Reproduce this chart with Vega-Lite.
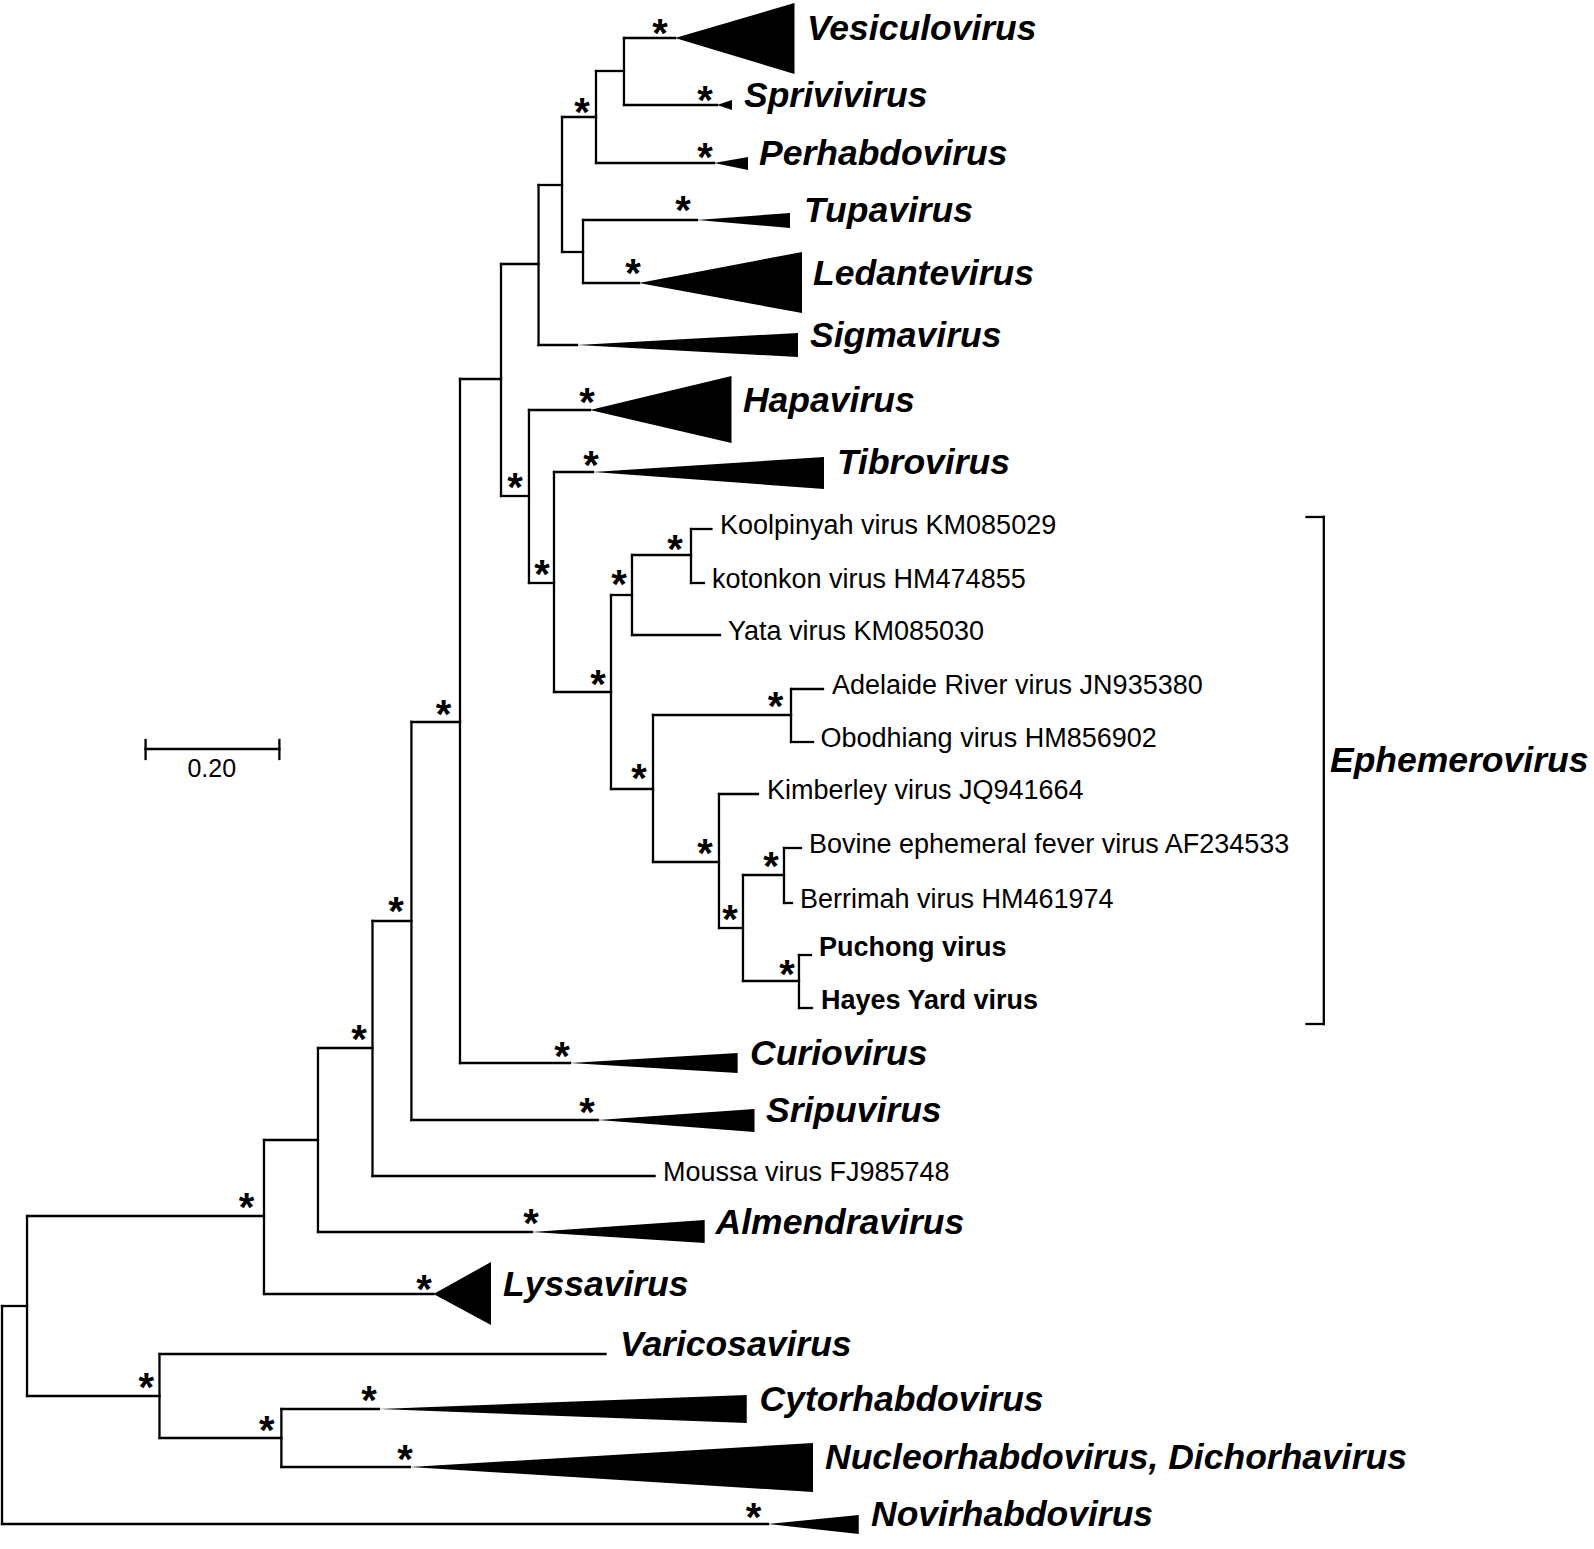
{
  "$schema": "https://vega.github.io/schema/vega-lite/v6.json",
  "width": 1594,
  "height": 1549,
  "padding": 0,
  "autosize": "none",
  "background": "white",
  "config": {"view": {"stroke": null}},
  "datasets": {
    "branches": [
      {"x":0,"x2":0.0374,"y":1306,"y2":1306},
      {"x":0,"x2":1.1450,"y":1524,"y2":1524},
      {"x":0,"x2":0,"y":1306,"y2":1524},
      {"x":0.0374,"x2":0.0374,"y":1216,"y2":1396},
      {"x":0.0374,"x2":0.3916,"y":1216,"y2":1216},
      {"x":0.0374,"x2":0.2354,"y":1396,"y2":1396},
      {"x":0.2354,"x2":0.2354,"y":1354,"y2":1438},
      {"x":0.2354,"x2":0.9021,"y":1354,"y2":1354},
      {"x":0.2354,"x2":0.4176,"y":1438,"y2":1438},
      {"x":0.4176,"x2":0.4176,"y":1409,"y2":1467},
      {"x":0.4176,"x2":0.5635,"y":1409,"y2":1409},
      {"x":0.4176,"x2":0.6096,"y":1467,"y2":1467},
      {"x":0.3916,"x2":0.3916,"y":1140,"y2":1294},
      {"x":0.3916,"x2":0.6450,"y":1294,"y2":1294},
      {"x":0.3916,"x2":0.4723,"y":1140,"y2":1140},
      {"x":0.4723,"x2":0.4723,"y":1048,"y2":1232},
      {"x":0.4723,"x2":0.7922,"y":1232,"y2":1232},
      {"x":0.4723,"x2":0.5538,"y":1048,"y2":1048},
      {"x":0.5538,"x2":0.5538,"y":921,"y2":1176},
      {"x":0.5538,"x2":0.9755,"y":1176,"y2":1176},
      {"x":0.5538,"x2":0.6120,"y":921,"y2":921},
      {"x":0.6120,"x2":0.6120,"y":722,"y2":1120},
      {"x":0.6120,"x2":0.8909,"y":1120,"y2":1120},
      {"x":0.6120,"x2":0.6846,"y":722,"y2":722},
      {"x":0.6846,"x2":0.6846,"y":379,"y2":1063},
      {"x":0.6846,"x2":0.8490,"y":1063,"y2":1063},
      {"x":0.6846,"x2":0.7459,"y":379,"y2":379},
      {"x":0.7459,"x2":0.7459,"y":264,"y2":496},
      {"x":0.7459,"x2":0.8020,"y":264,"y2":264},
      {"x":0.7459,"x2":0.7877,"y":496,"y2":496},
      {"x":0.7877,"x2":0.7877,"y":410,"y2":583},
      {"x":0.7877,"x2":0.8789,"y":410,"y2":410},
      {"x":0.7877,"x2":0.8251,"y":583,"y2":583},
      {"x":0.8251,"x2":0.8251,"y":472,"y2":692},
      {"x":0.8251,"x2":0.8834,"y":472,"y2":472},
      {"x":0.8251,"x2":0.9103,"y":692,"y2":692},
      {"x":0.9103,"x2":0.9103,"y":595,"y2":789},
      {"x":0.9103,"x2":0.9417,"y":595,"y2":595},
      {"x":0.9417,"x2":0.9417,"y":555,"y2":635},
      {"x":0.9417,"x2":1.0299,"y":555,"y2":555},
      {"x":1.0299,"x2":1.0299,"y":529,"y2":583},
      {"x":1.0299,"x2":1.0605,"y":529,"y2":529},
      {"x":1.0299,"x2":1.0493,"y":583,"y2":583},
      {"x":0.9417,"x2":1.0732,"y":635,"y2":635},
      {"x":0.9103,"x2":0.9731,"y":789,"y2":789},
      {"x":0.9731,"x2":0.9731,"y":715,"y2":862},
      {"x":0.9731,"x2":1.1794,"y":715,"y2":715},
      {"x":1.1794,"x2":1.1794,"y":689,"y2":742},
      {"x":1.1794,"x2":1.2272,"y":689,"y2":689},
      {"x":1.1794,"x2":1.2123,"y":742,"y2":742},
      {"x":0.9731,"x2":1.0717,"y":862,"y2":862},
      {"x":1.0717,"x2":1.0717,"y":794,"y2":928},
      {"x":1.0717,"x2":1.1300,"y":794,"y2":794},
      {"x":1.0717,"x2":1.1076,"y":928,"y2":928},
      {"x":1.1076,"x2":1.1076,"y":875,"y2":981},
      {"x":1.1076,"x2":1.1689,"y":875,"y2":875},
      {"x":1.1689,"x2":1.1689,"y":848,"y2":903},
      {"x":1.1689,"x2":1.1943,"y":848,"y2":848},
      {"x":1.1689,"x2":1.1809,"y":903,"y2":903},
      {"x":1.1076,"x2":1.1913,"y":981,"y2":981},
      {"x":1.1913,"x2":1.1913,"y":955,"y2":1008},
      {"x":1.1913,"x2":1.2093,"y":955,"y2":955},
      {"x":1.1913,"x2":1.2108,"y":1008,"y2":1008},
      {"x":0.8020,"x2":0.8020,"y":185,"y2":345},
      {"x":0.8020,"x2":0.8371,"y":185,"y2":185},
      {"x":0.8020,"x2":0.8595,"y":345,"y2":345},
      {"x":0.8371,"x2":0.8371,"y":117,"y2":252},
      {"x":0.8371,"x2":0.8879,"y":117,"y2":117},
      {"x":0.8371,"x2":0.8685,"y":252,"y2":252},
      {"x":0.8685,"x2":0.8685,"y":220,"y2":283},
      {"x":0.8685,"x2":1.0389,"y":220,"y2":220},
      {"x":0.8685,"x2":0.9522,"y":283,"y2":283},
      {"x":0.8879,"x2":0.8879,"y":71,"y2":163},
      {"x":0.8879,"x2":0.9297,"y":71,"y2":71},
      {"x":0.8879,"x2":1.0643,"y":163,"y2":163},
      {"x":0.9297,"x2":0.9297,"y":38,"y2":105},
      {"x":0.9297,"x2":1.0060,"y":38,"y2":38},
      {"x":0.9297,"x2":1.0688,"y":105,"y2":105}
    ],
    "guides": [
      {"x":0.2146,"x2":0.4146,"y":749,"y2":749},
      {"x":0.2146,"x2":0.2146,"y":740,"y2":759},
      {"x":0.4146,"x2":0.4146,"y":740,"y2":759},
      {"x":1.9758,"x2":1.9758,"y":517,"y2":1024},
      {"x":1.9499,"x2":1.9758,"y":517,"y2":517},
      {"x":1.9499,"x2":1.9758,"y":1024,"y2":1024}
    ],
    "clades": [
      {"clade":"Vesiculovirus","x":1.0060,"y":38,"y2":38},
      {"clade":"Vesiculovirus","x":1.1846,"y":3,"y2":74},
      {"clade":"Sprivivirus","x":1.0688,"y":105,"y2":105},
      {"clade":"Sprivivirus","x":1.0912,"y":100,"y2":110},
      {"clade":"Perhabdovirus","x":1.0643,"y":163,"y2":163},
      {"clade":"Perhabdovirus","x":1.1151,"y":157,"y2":170},
      {"clade":"Tupavirus","x":1.0389,"y":220,"y2":220},
      {"clade":"Tupavirus","x":1.1779,"y":213,"y2":228},
      {"clade":"Ledantevirus","x":0.9522,"y":283,"y2":283},
      {"clade":"Ledantevirus","x":1.1958,"y":252,"y2":313},
      {"clade":"Sigmavirus","x":0.8595,"y":345,"y2":345},
      {"clade":"Sigmavirus","x":1.1898,"y":333,"y2":357},
      {"clade":"Hapavirus","x":0.8789,"y":410,"y2":410},
      {"clade":"Hapavirus","x":1.0904,"y":376,"y2":443},
      {"clade":"Tibrovirus","x":0.8834,"y":472,"y2":472},
      {"clade":"Tibrovirus","x":1.2287,"y":457,"y2":489},
      {"clade":"Curiovirus","x":0.8490,"y":1063,"y2":1063},
      {"clade":"Curiovirus","x":1.0996,"y":1053,"y2":1073},
      {"clade":"Sripuvirus","x":0.8909,"y":1120,"y2":1120},
      {"clade":"Sripuvirus","x":1.1248,"y":1109,"y2":1132},
      {"clade":"Almendravirus","x":0.7922,"y":1232,"y2":1232},
      {"clade":"Almendravirus","x":1.0504,"y":1220,"y2":1243},
      {"clade":"Lyssavirus","x":0.6450,"y":1294,"y2":1294},
      {"clade":"Lyssavirus","x":0.7309,"y":1262,"y2":1325},
      {"clade":"Cytorhabdovirus","x":0.5635,"y":1409,"y2":1409},
      {"clade":"Cytorhabdovirus","x":1.1132,"y":1395,"y2":1423},
      {"clade":"Nucleorhabdovirus","x":0.6096,"y":1467,"y2":1467},
      {"clade":"Nucleorhabdovirus","x":1.2123,"y":1443,"y2":1492},
      {"clade":"Novirhabdovirus","x":1.1450,"y":1524,"y2":1524},
      {"clade":"Novirhabdovirus","x":1.2807,"y":1515,"y2":1534}
    ],
    "labels": [
      {"label":"Vesiculovirus","kind":"genus","x":1.2033,"y":38},
      {"label":"Sprivivirus","kind":"genus","x":1.1091,"y":105},
      {"label":"Perhabdovirus","kind":"genus","x":1.1315,"y":163},
      {"label":"Tupavirus","kind":"genus","x":1.1988,"y":220},
      {"label":"Ledantevirus","kind":"genus","x":1.2123,"y":283},
      {"label":"Sigmavirus","kind":"genus","x":1.2078,"y":345},
      {"label":"Hapavirus","kind":"genus","x":1.1076,"y":410},
      {"label":"Tibrovirus","kind":"genus","x":1.2481,"y":472},
      {"label":"Curiovirus","kind":"genus","x":1.1181,"y":1063},
      {"label":"Sripuvirus","kind":"genus","x":1.1420,"y":1120},
      {"label":"Almendravirus","kind":"genus","x":1.0667,"y":1232},
      {"label":"Lyssavirus","kind":"genus","x":0.7489,"y":1294},
      {"label":"Varicosavirus","kind":"genus","x":0.9238,"y":1354},
      {"label":"Cytorhabdovirus","kind":"genus","x":1.1324,"y":1409},
      {"label":"Nucleorhabdovirus, Dichorhavirus","kind":"genus","x":1.2302,"y":1467},
      {"label":"Novirhabdovirus","kind":"genus","x":1.2990,"y":1524},
      {"label":"Ephemerovirus","kind":"genus","x":1.9850,"y":770},
      {"label":"Koolpinyah virus KM085029","kind":"strain","x":1.0732,"y":529},
      {"label":"kotonkon virus HM474855","kind":"strain","x":1.0613,"y":583},
      {"label":"Yata virus KM085030","kind":"strain","x":1.0852,"y":635},
      {"label":"Adelaide River virus JN935380","kind":"strain","x":1.2407,"y":689},
      {"label":"Obodhiang virus HM856902","kind":"strain","x":1.2235,"y":742},
      {"label":"Kimberley virus JQ941664","kind":"strain","x":1.1435,"y":794},
      {"label":"Bovine ephemeral fever virus AF234533","kind":"strain","x":1.2063,"y":848},
      {"label":"Berrimah virus HM461974","kind":"strain","x":1.1928,"y":903},
      {"label":"Moussa virus FJ985748","kind":"strain","x":0.9880,"y":1176},
      {"label":"Puchong virus","kind":"new","x":1.2212,"y":955},
      {"label":"Hayes Yard virus","kind":"new","x":1.2242,"y":1008},
      {"label":"0.20","kind":"scale","x":0.3135,"y":767.5}
    ],
    "support": [
      {"x":0.9836,"y":28},{"x":1.0508,"y":95},{"x":0.8670,"y":107},{"x":1.0508,"y":152},
      {"x":1.0179,"y":205},{"x":0.9432,"y":268},{"x":0.8744,"y":397},{"x":0.8804,"y":460},
      {"x":0.7668,"y":482},{"x":0.8072,"y":569},{"x":0.8909,"y":679},{"x":0.9223,"y":579},
      {"x":1.0060,"y":544},{"x":0.9522,"y":773},{"x":1.1562,"y":701},{"x":1.0508,"y":848},
      {"x":1.0882,"y":914},{"x":1.1495,"y":861},{"x":1.1734,"y":969},{"x":0.6601,"y":709},
      {"x":0.5889,"y":906},{"x":0.5336,"y":1034},{"x":0.8371,"y":1051},{"x":0.8744,"y":1107},
      {"x":0.7907,"y":1218},{"x":0.3655,"y":1202},{"x":0.6308,"y":1284},{"x":0.2157,"y":1382},
      {"x":0.3958,"y":1425},{"x":0.5486,"y":1395},{"x":0.6024,"y":1454},{"x":1.1233,"y":1512}
    ]
  },
  "encoding": {
    "x": {"field": "x", "type": "quantitative", "scale": {"domain": [-0.003, 2.3797], "nice": false, "zero": false}, "axis": null},
    "y": {"field": "y", "type": "quantitative", "scale": {"domain": [0, 1549], "reverse": true, "nice": false, "zero": false}, "axis": null}
  },
  "layer": [
    {
      "data": {"name": "clades"},
      "mark": {"type": "area", "orient": "vertical", "color": "black", "opacity": 1, "interpolate": "linear"},
      "encoding": {"y2": {"field": "y2"}, "detail": {"field": "clade", "type": "nominal"}}
    },
    {
      "data": {"name": "branches"},
      "mark": {"type": "rule", "color": "black", "strokeWidth": 2.3, "strokeCap": "square"},
      "encoding": {"x2": {"field": "x2"}, "y2": {"field": "y2"}}
    },
    {
      "data": {"name": "guides"},
      "mark": {"type": "rule", "color": "black", "strokeWidth": 2.3, "strokeCap": "square"},
      "encoding": {"x2": {"field": "x2"}, "y2": {"field": "y2"}}
    },
    {
      "data": {"name": "labels"},
      "transform": [{"filter": "datum.kind === 'genus'"}],
      "mark": {"type": "text", "align": "left", "baseline": "middle", "font": "Liberation Sans", "fontSize": 35.5, "fontWeight": "bold", "fontStyle": "italic", "color": "black", "dy": -9},
      "encoding": {"text": {"field": "label"}}
    },
    {
      "data": {"name": "labels"},
      "transform": [{"filter": "datum.kind === 'strain'"}],
      "mark": {"type": "text", "align": "left", "baseline": "middle", "font": "Liberation Sans", "fontSize": 27, "color": "black", "dy": -3},
      "encoding": {"text": {"field": "label"}}
    },
    {
      "data": {"name": "labels"},
      "transform": [{"filter": "datum.kind === 'new'"}],
      "mark": {"type": "text", "align": "left", "baseline": "middle", "font": "Liberation Sans", "fontSize": 27, "fontWeight": "bold", "color": "black", "dy": -7.5},
      "encoding": {"text": {"field": "label"}}
    },
    {
      "data": {"name": "labels"},
      "transform": [{"filter": "datum.kind === 'scale'"}],
      "mark": {"type": "text", "align": "center", "baseline": "middle", "font": "Liberation Sans", "fontSize": 25, "color": "black", "dy": 1.5},
      "encoding": {"text": {"field": "label"}}
    },
    {
      "data": {"name": "support"},
      "mark": {"type": "text", "align": "center", "baseline": "middle", "font": "Liberation Sans", "fontSize": 40, "fontWeight": "bold", "color": "black", "dy": 7},
      "encoding": {"text": {"value": "*"}}
    }
  ]
}
